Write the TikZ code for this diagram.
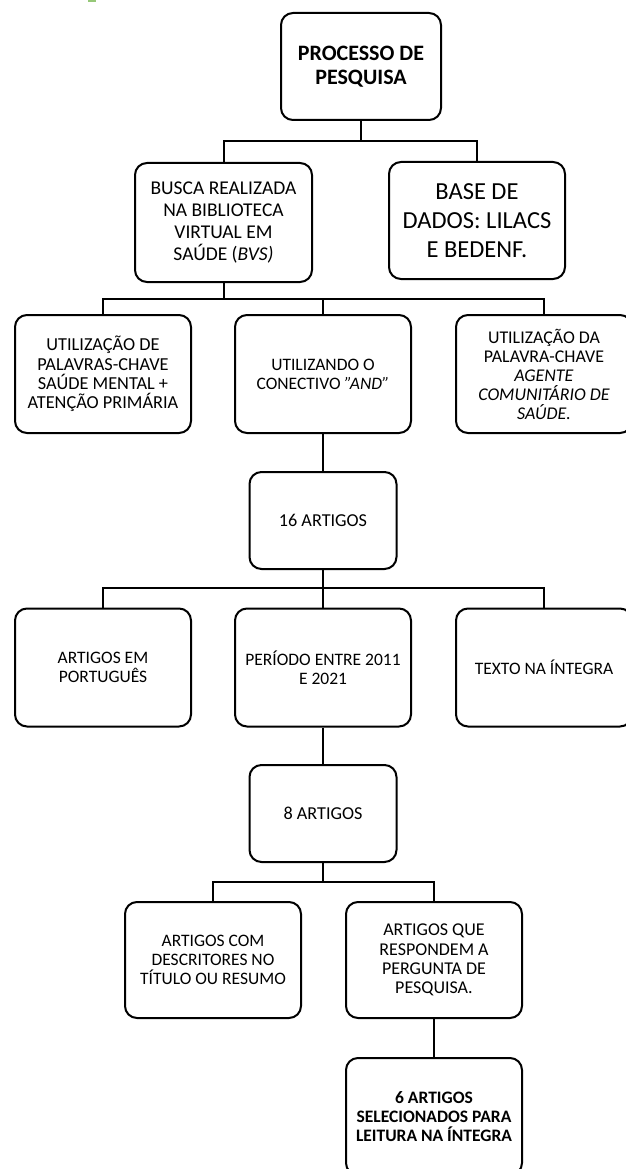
\documentclass[tikz,border=0pt]{standalone}
\usepackage{fontspec}
\setmainfont{Carlito}
\definecolor{greenmark}{RGB}{150,200,120}
\begin{document}
\begin{tikzpicture}[x=1pt,y=-1pt,
  box/.style={draw=black, line width=2pt, rounded corners=12pt, align=center, inner sep=0pt, text=black},
  wide/.style={minimum width=176pt, minimum height=118pt},
  small/.style={minimum width=147pt, minimum height=97pt},
  fs/.style={font=\fontsize{17.5}{19.2}\selectfont},
  fsb/.style={font=\fontsize{18.2}{19.2}\selectfont},
  conn/.style={line width=2pt}]
\useasboundingbox (0,0) rectangle (625,1169);
\fill[greenmark] (88,0) rectangle (96,2.5);

\node[box, minimum width=160pt, minimum height=107pt, font=\bfseries\fontsize{22}{24}\selectfont] (top) at (361,66.5) {PROCESSO DE\\PESQUISA};
\node[box, minimum width=177pt, minimum height=119pt, font=\fontsize{19.5}{21.7}\selectfont] (busca) at (223.5,222.5) {BUSCA REALIZADA\\NA BIBLIOTECA\\VIRTUAL EM\\SAÚDE (\textit{BVS)}};
\node[box, minimum width=176pt, minimum height=117pt, font=\fontsize{24.5}{29}\selectfont] (base) at (477,220.5) {BASE DE\\DADOS: LILACS\\E BEDENF.};

\node[box, wide, font=\fontsize{18.3}{19.2}\selectfont] (r3a) at (103,374) {UTILIZAÇÃO DE\\PALAVRAS-CHAVE\\SAÚDE MENTAL +\\ATENÇÃO PRIMÁRIA};
\node[box, wide, fs] (r3b) at (323,374) {UTILIZANDO O\\CONECTIVO \textit{"AND"}};
\node[box, wide, font=\fontsize{17.9}{19}\selectfont] (r3c) at (544,374) {UTILIZAÇÃO DA\\PALAVRA-CHAVE\\\textit{AGENTE}\\\textit{COMUNITÁRIO DE}\\\textit{SAÚDE.}};

\node[box, small, fsb] (n16) at (323,520.5) {16 ARTIGOS};

\node[box, wide, fs] (r5a) at (103,667.5) {ARTIGOS EM\\PORTUGUÊS};
\node[box, wide, fs] (r5b) at (323,667.5) {PERÍODO ENTRE 2011\\E 2021};
\node[box, wide, fs] (r5c) at (544,667.5) {TEXTO NA ÍNTEGRA};

\node[box, small, fsb] (n8) at (323,813.5) {8 ARTIGOS};

\node[box, wide, minimum height=116pt, font=\fontsize{17.5}{19.2}\selectfont] (r7a) at (213,960) {ARTIGOS COM\\DESCRITORES NO\\TÍTULO OU RESUMO};
\node[box, wide, minimum height=116pt, font=\fontsize{18}{19.2}\selectfont] (r7b) at (434,960) {ARTIGOS QUE\\RESPONDEM A\\PERGUNTA DE\\PESQUISA.};

\node[box, wide, minimum height=117pt, font=\bfseries\fontsize{17.5}{19.2}\selectfont] (n6) at (434,1116.5) {6 ARTIGOS\\SELECIONADOS PARA\\LEITURA NA ÍNTEGRA};

\coordinate (h1) at (0,141);
\coordinate (h2) at (0,298.5);
\coordinate (h3) at (0,588);
\coordinate (h4) at (0,882);

\draw[conn] (top.south) -- (top.south |- h1);
\draw[conn] (busca.north) |- (base.north |- h1) -- (base.north);

\draw[conn] (busca.south) -- (busca.south |- h2);
\draw[conn] (r3a.north) |- (r3c.north |- h2) -- (r3c.north);
\draw[conn] (r3b.north) -- (r3b.north |- h2);

\draw[conn] (r3b.south) -- (n16.north);

\draw[conn] (n16.south) -- (n16.south |- h3);
\draw[conn] (r5a.north) |- (r5c.north |- h3) -- (r5c.north);
\draw[conn] (r5b.north) -- (r5b.north |- h3);

\draw[conn] (r5b.south) -- (n8.north);

\draw[conn] (n8.south) -- (n8.south |- h4);
\draw[conn] (r7a.north) |- (r7b.north |- h4) -- (r7b.north);

\draw[conn] (r7b.south) -- (n6.north);
\end{tikzpicture}
\end{document}
